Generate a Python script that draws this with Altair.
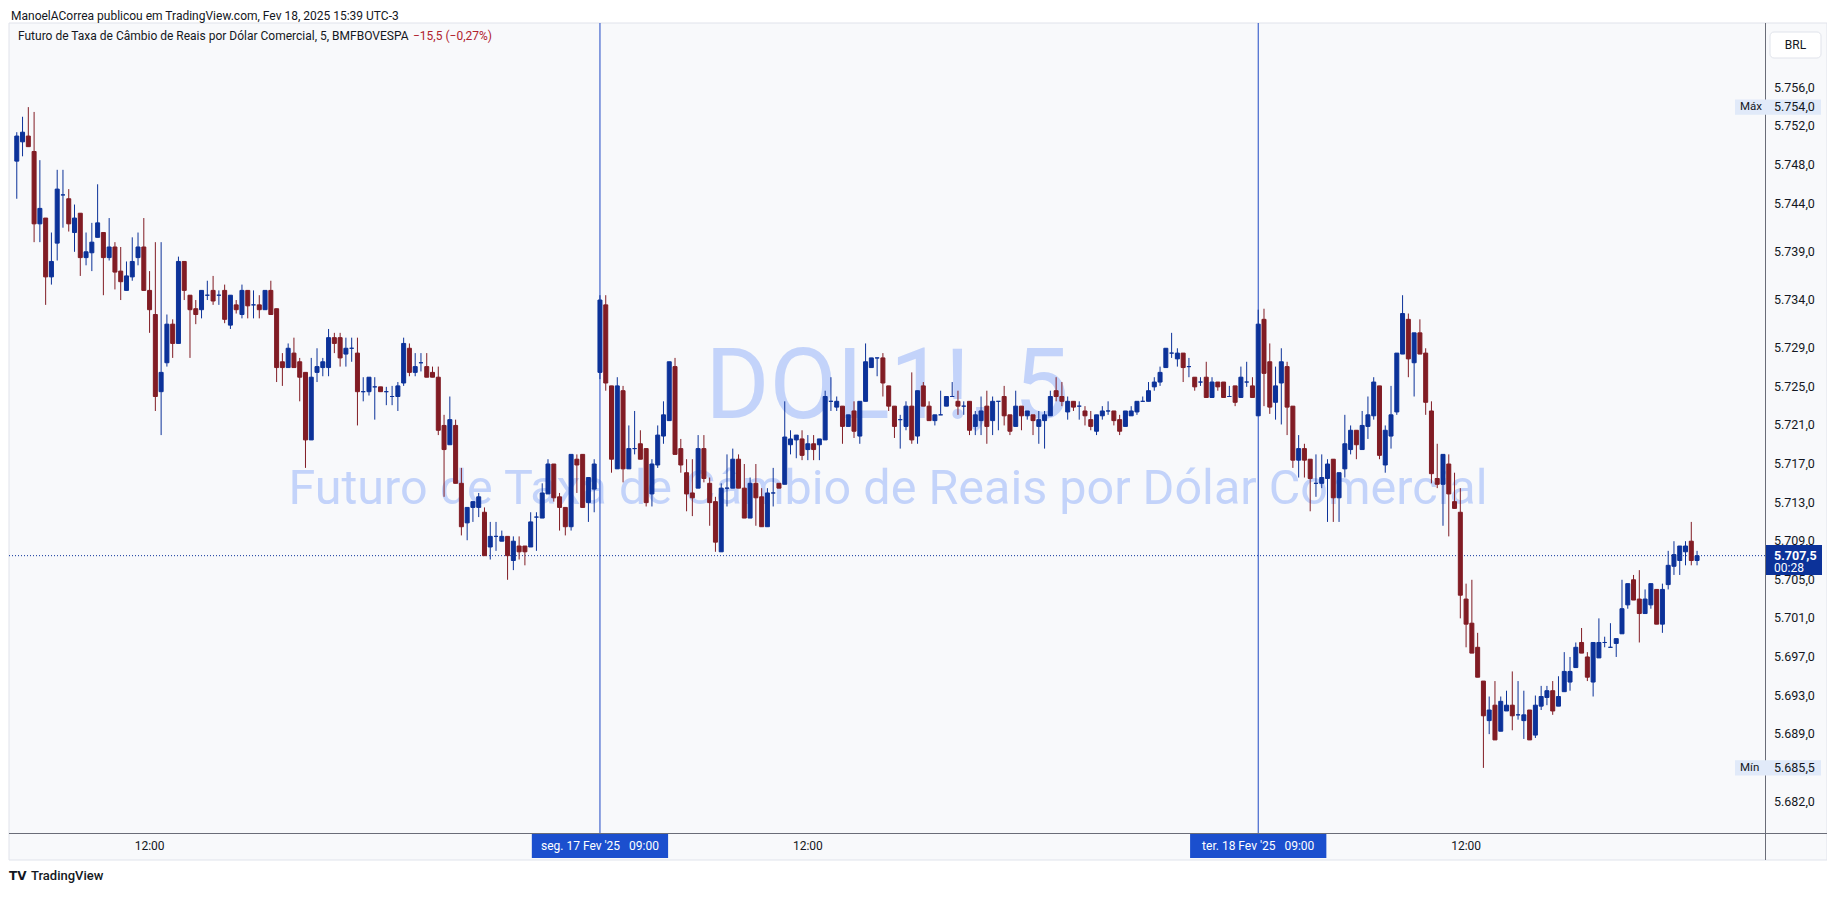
import altair as alt
import pandas as pd

# ---------------- candle data (5-minute bars, points) ----------------
# Day 1 (Fri, from 10:05)
d1_open = [5748.4, 5750.4, 5751.0, 5749.4, 5741.9, 5742.5, 5736.4, 5739.9, 5744.9, 5744.5,
           5741.0, 5743.0, 5738.4, 5738.9, 5740.5, 5741.0, 5738.4, 5739.5, 5737.0, 5735.0,
           5736.4, 5738.4, 5739.5, 5735.0, 5732.5, 5724.5, 5727.5, 5731.5, 5729.5, 5738.0,
           5734.5, 5733.1, 5733.0, 5734.5, 5735.0, 5734.5, 5735.0, 5731.4, 5733.5, 5732.5,
           5735.0, 5733.5, 5733.5, 5733.0, 5735.0, 5733.1, 5727.6, 5727.0, 5728.5, 5727.6,
           5726.5, 5719.5, 5726.5, 5727.0, 5727.0, 5730.1, 5730.1, 5728.4, 5729.0, 5728.5,
           5724.5, 5724.5, 5725.0, 5725.0, 5724.5, 5724.0, 5724.0, 5725.4, 5729.0, 5726.5,
           5727.5, 5727.1, 5726.5, 5726.0, 5721.0, 5719.0, 5721.0, 5715.0, 5710.9, 5712.5,
           5712.5, 5712.0, 5708.4, 5709.5, 5709.0, 5709.5, 5707.0, 5708.5, 5708.5, 5708.4,
           5711.5, 5711.4, 5713.9, 5717.0, 5713.6, 5712.5, 5710.5, 5717.5, 5718.0, 5713.0,
           5714.4]
d1_high = [5751.4, 5753.0, 5754.0, 5753.5, 5748.5, 5742.5, 5741.0, 5747.5, 5747.5, 5745.5,
           5743.9, 5743.0, 5741.0, 5742.0, 5746.0, 5741.0, 5742.5, 5740.0, 5739.5, 5738.0,
           5740.5, 5741.0, 5742.5, 5737.0, 5740.0, 5740.0, 5732.5, 5732.0, 5738.5, 5738.0,
           5734.5, 5734.0, 5735.0, 5736.0, 5736.5, 5735.0, 5735.6, 5734.5, 5734.0, 5735.6,
           5735.0, 5735.0, 5734.5, 5735.0, 5736.0, 5733.1, 5728.5, 5729.5, 5730.1, 5728.0,
           5726.5, 5728.0, 5729.0, 5728.0, 5731.0, 5730.6, 5730.6, 5730.1, 5730.1, 5730.1,
           5726.0, 5726.0, 5726.0, 5725.0, 5725.0, 5725.1, 5725.5, 5730.1, 5729.5, 5728.5,
           5728.5, 5728.5, 5727.1, 5727.1, 5722.1, 5724.0, 5721.6, 5716.6, 5712.5, 5713.1,
           5714.0, 5712.5, 5711.0, 5711.0, 5710.1, 5709.5, 5709.5, 5709.5, 5708.5, 5712.0,
           5712.0, 5715.0, 5717.5, 5717.0, 5714.0, 5712.5, 5718.0, 5718.0, 5718.0, 5715.6,
           5717.5]
d1_low = [5744.5, 5748.9, 5749.9, 5740.0, 5740.0, 5733.5, 5735.6, 5738.1, 5741.5, 5741.1,
          5739.0, 5736.5, 5737.6, 5737.0, 5740.5, 5734.5, 5738.1, 5735.1, 5734.0, 5735.0,
          5736.0, 5737.6, 5735.0, 5730.6, 5722.5, 5720.0, 5727.1, 5728.0, 5729.5, 5734.0,
          5728.0, 5731.5, 5732.1, 5734.0, 5733.5, 5733.5, 5731.6, 5731.0, 5732.6, 5732.1,
          5732.1, 5732.1, 5732.1, 5733.0, 5732.5, 5725.5, 5725.1, 5727.0, 5727.0, 5723.5,
          5716.6, 5719.5, 5725.5, 5726.1, 5726.1, 5728.5, 5727.1, 5727.1, 5727.6, 5721.0,
          5723.5, 5724.1, 5721.6, 5724.5, 5723.1, 5723.1, 5722.5, 5725.1, 5726.1, 5726.1,
          5726.6, 5726.0, 5726.0, 5720.0, 5713.6, 5719.0, 5715.0, 5709.6, 5709.1, 5711.0,
          5711.5, 5707.5, 5707.1, 5708.0, 5709.0, 5705.0, 5706.0, 5707.1, 5706.5, 5708.4,
          5708.0, 5711.4, 5713.9, 5713.1, 5710.1, 5709.6, 5710.1, 5714.0, 5712.5, 5711.0,
          5712.0]
d1_close = [5751.0, 5751.4, 5749.9, 5741.9, 5743.5, 5736.4, 5738.0, 5745.5, 5744.9, 5741.9,
            5742.5, 5738.4, 5739.0, 5740.0, 5742.0, 5738.4, 5739.5, 5736.9, 5735.9, 5736.5,
            5738.0, 5739.5, 5735.0, 5733.0, 5724.0, 5726.5, 5731.5, 5729.5, 5738.0, 5735.0,
            5733.0, 5732.5, 5735.0, 5734.5, 5733.9, 5734.5, 5732.0, 5734.5, 5733.0, 5735.0,
            5733.4, 5733.5, 5733.0, 5735.0, 5732.5, 5727.0, 5727.0, 5729.0, 5727.0, 5726.0,
            5719.5, 5726.0, 5727.1, 5727.6, 5730.1, 5729.5, 5728.0, 5729.0, 5729.0, 5724.5,
            5724.5, 5726.0, 5725.0, 5724.5, 5724.5, 5724.0, 5725.1, 5729.5, 5726.5, 5727.1,
            5727.5, 5726.0, 5726.0, 5720.5, 5718.5, 5721.6, 5715.0, 5710.5, 5712.5, 5713.1,
            5713.6, 5707.5, 5709.5, 5709.5, 5709.5, 5707.5, 5709.0, 5707.9, 5707.9, 5711.0,
            5711.5, 5714.0, 5717.0, 5713.5, 5712.5, 5710.5, 5718.0, 5716.9, 5712.5, 5715.6,
            5717.0]

# Day 2 (seg. 17 Fev, 09:00 - 18:25)
d2_open = [5726.5, 5733.5, 5725.1, 5716.5, 5724.6, 5716.5, 5718.6, 5719.1, 5718.6, 5713.9,
           5716.9, 5719.9, 5721.5, 5727.1, 5718.6, 5716.1, 5714.0, 5714.5, 5718.6, 5715.0,
           5713.1, 5707.9, 5714.5, 5714.5, 5717.5, 5714.5, 5711.4, 5715.0, 5713.6, 5710.5,
           5714.0, 5715.0, 5714.9, 5719.0, 5719.5, 5719.6, 5718.5, 5719.1, 5719.0, 5719.5,
           5723.5, 5722.9, 5723.0, 5720.9, 5722.5, 5719.9, 5723.5, 5727.0, 5728.0, 5728.0,
           5725.1, 5723.0, 5721.6, 5720.9, 5723.0, 5719.9, 5725.1, 5723.0, 5721.5, 5722.1,
           5723.0, 5724.0, 5723.5, 5723.0, 5723.5, 5720.9, 5721.5, 5723.0, 5721.5, 5723.5,
           5724.0, 5722.1, 5720.9, 5723.0, 5722.0, 5722.1, 5720.9, 5721.5, 5722.0, 5724.6,
           5724.0, 5722.4, 5723.5, 5723.0, 5722.5, 5721.6, 5720.4, 5722.0, 5722.5, 5722.5,
           5721.6, 5720.9, 5722.0, 5722.4, 5723.5, 5723.5, 5725.0, 5725.5, 5727.0, 5728.5,
           5727.9, 5728.5, 5727.1, 5726.0, 5725.5, 5726.0, 5723.9, 5725.5, 5725.5, 5724.0,
           5725.1, 5723.9, 5725.5, 5725.1]
d2_high = [5734.5, 5734.5, 5725.1, 5726.0, 5725.1, 5721.0, 5722.5, 5720.5, 5718.6, 5717.5,
           5721.0, 5723.5, 5727.6, 5728.0, 5719.6, 5717.5, 5717.5, 5720.0, 5720.0, 5715.6,
           5713.6, 5715.0, 5718.0, 5718.6, 5718.0, 5717.0, 5715.6, 5717.0, 5714.5, 5714.5,
           5716.6, 5715.0, 5723.5, 5720.5, 5720.0, 5720.5, 5720.0, 5720.0, 5719.6, 5724.6,
           5726.0, 5724.0, 5723.0, 5722.1, 5723.5, 5723.5, 5729.5, 5728.0, 5728.0, 5728.5,
           5725.1, 5723.0, 5722.1, 5723.5, 5726.5, 5724.6, 5725.5, 5723.5, 5722.1, 5724.6,
           5724.0, 5725.5, 5724.6, 5723.5, 5723.5, 5722.5, 5724.0, 5724.6, 5724.0, 5723.5,
           5725.1, 5722.1, 5724.6, 5723.0, 5722.5, 5722.1, 5722.5, 5722.5, 5724.6, 5726.0,
           5725.5, 5724.0, 5723.5, 5723.5, 5723.0, 5722.5, 5722.1, 5723.0, 5723.5, 5722.5,
           5722.1, 5722.5, 5723.0, 5723.5, 5724.0, 5725.5, 5726.0, 5727.1, 5729.0, 5730.6,
           5729.0, 5728.5, 5728.0, 5726.0, 5726.0, 5727.6, 5726.0, 5725.5, 5725.5, 5725.1,
           5725.1, 5727.1, 5727.6, 5726.0]
d2_low = [5725.8, 5724.6, 5716.1, 5716.5, 5715.1, 5716.5, 5718.0, 5717.5, 5712.6, 5712.6,
          5716.6, 5719.1, 5721.5, 5718.0, 5716.1, 5712.1, 5711.6, 5714.5, 5715.1, 5710.6,
          5707.9, 5707.9, 5712.6, 5714.5, 5714.5, 5711.4, 5711.4, 5710.6, 5710.5, 5710.5,
          5712.6, 5714.5, 5714.9, 5718.0, 5717.6, 5717.4, 5717.4, 5717.4, 5717.4, 5719.5,
          5722.5, 5722.5, 5719.1, 5720.9, 5719.7, 5719.1, 5723.5, 5727.0, 5726.1, 5724.0,
          5722.5, 5719.7, 5718.6, 5720.5, 5719.1, 5719.1, 5723.0, 5721.5, 5721.0, 5722.1,
          5723.0, 5724.0, 5722.1, 5722.1, 5720.0, 5720.0, 5720.0, 5719.1, 5720.0, 5720.5,
          5721.0, 5720.0, 5720.9, 5720.5, 5721.6, 5720.0, 5719.1, 5718.6, 5722.0, 5723.5,
          5723.0, 5721.6, 5722.5, 5721.6, 5721.0, 5720.5, 5720.0, 5721.6, 5722.1, 5721.0,
          5720.0, 5720.9, 5722.0, 5722.1, 5723.5, 5723.5, 5724.6, 5725.1, 5727.0, 5728.0,
          5727.1, 5725.5, 5726.0, 5724.6, 5725.1, 5723.9, 5723.9, 5724.6, 5723.9, 5724.0,
          5723.0, 5723.9, 5725.0, 5723.9]
d2_close = [5734.0, 5725.4, 5717.5, 5725.1, 5716.5, 5718.6, 5718.6, 5717.5, 5713.0, 5717.0,
            5720.0, 5722.1, 5727.6, 5718.0, 5716.9, 5713.9, 5713.5, 5718.6, 5715.5, 5713.0,
            5708.9, 5714.5, 5714.5, 5717.5, 5714.5, 5711.4, 5715.0, 5713.5, 5710.5, 5714.0,
            5714.0, 5714.5, 5719.8, 5719.6, 5720.0, 5717.9, 5719.1, 5718.5, 5719.6, 5724.0,
            5723.5, 5723.5, 5720.9, 5722.1, 5720.4, 5723.5, 5727.6, 5728.0, 5728.0, 5725.4,
            5723.0, 5720.9, 5721.6, 5723.0, 5719.5, 5724.6, 5723.0, 5721.5, 5722.1, 5722.1,
            5724.0, 5724.0, 5723.0, 5723.0, 5720.5, 5722.1, 5722.5, 5720.9, 5723.5, 5723.5,
            5722.0, 5720.4, 5723.0, 5722.0, 5722.5, 5721.5, 5721.6, 5722.1, 5724.0, 5724.0,
            5723.5, 5723.5, 5722.9, 5723.0, 5722.0, 5720.9, 5722.1, 5722.5, 5722.5, 5721.5,
            5720.4, 5722.5, 5722.5, 5723.5, 5723.5, 5724.6, 5725.5, 5726.5, 5729.0, 5728.5,
            5728.5, 5727.0, 5727.1, 5725.0, 5725.5, 5723.9, 5725.5, 5725.0, 5723.9, 5724.0,
            5723.4, 5726.0, 5725.5, 5723.9]

# Day 3 (ter. 18 Fev, 09:00 - )
d3_open = [5722.0, 5732.0, 5727.6, 5723.4, 5725.4, 5727.1, 5723.0, 5717.4, 5718.6, 5717.5,
           5715.0, 5715.0, 5715.5, 5717.5, 5713.5, 5716.5, 5718.5, 5720.5, 5718.5, 5720.9,
           5722.0, 5725.1, 5716.9, 5719.9, 5722.4, 5728.4, 5732.0, 5727.5, 5730.6, 5728.5,
           5722.5, 5715.5, 5714.9, 5717.0, 5713.1, 5712.0, 5703.0, 5700.5, 5698.0, 5694.5,
           5690.4, 5692.0, 5689.3, 5691.4, 5692.0, 5691.0, 5690.4, 5691.5, 5688.9, 5691.9,
           5692.8, 5693.5, 5691.9, 5693.4, 5694.4, 5695.9, 5698.5, 5697.0, 5694.4, 5696.9,
           5698.5, 5698.0, 5698.4, 5699.4, 5702.4, 5705.0, 5703.0, 5701.5, 5702.4, 5704.0,
           5700.4, 5704.5, 5706.4, 5707.0, 5707.9, 5709.0, 5707.0]
d3_high = [5733.0, 5733.1, 5729.5, 5727.1, 5729.0, 5727.6, 5723.0, 5720.0, 5719.1, 5717.5,
           5718.0, 5718.0, 5717.5, 5717.5, 5716.1, 5722.1, 5721.0, 5720.5, 5722.5, 5724.0,
           5726.0, 5725.1, 5721.0, 5725.1, 5728.5, 5734.5, 5732.6, 5730.6, 5732.0, 5729.0,
           5723.5, 5719.1, 5718.0, 5718.0, 5716.1, 5714.5, 5704.6, 5705.0, 5699.5, 5694.5,
           5692.9, 5694.5, 5692.9, 5693.5, 5695.5, 5694.5, 5693.5, 5691.5, 5693.0, 5694.0,
           5694.0, 5694.5, 5695.0, 5697.5, 5697.0, 5698.5, 5700.0, 5697.5, 5698.5, 5701.0,
           5699.1, 5700.5, 5698.9, 5705.0, 5704.6, 5705.5, 5706.0, 5704.0, 5704.6, 5704.0,
           5704.6, 5708.0, 5709.0, 5708.5, 5709.0, 5711.0, 5708.0]
d3_low = [5722.0, 5723.0, 5722.2, 5721.6, 5721.1, 5720.0, 5716.6, 5715.6, 5715.6, 5712.1,
          5713.6, 5714.5, 5711.0, 5711.0, 5711.0, 5715.6, 5718.0, 5717.5, 5718.5, 5719.6,
          5721.6, 5717.5, 5716.1, 5718.6, 5722.1, 5728.4, 5726.0, 5724.0, 5728.4, 5722.1,
          5715.0, 5714.5, 5710.6, 5709.5, 5712.4, 5701.0, 5698.0, 5697.4, 5694.9, 5685.5,
          5689.0, 5688.4, 5689.3, 5691.4, 5689.4, 5690.5, 5688.5, 5688.4, 5688.6, 5691.5,
          5692.0, 5691.0, 5691.9, 5693.4, 5693.5, 5695.9, 5697.4, 5694.5, 5692.9, 5696.9,
          5698.0, 5698.0, 5697.0, 5699.4, 5702.0, 5702.9, 5698.5, 5701.5, 5702.0, 5700.4,
          5699.5, 5704.0, 5705.5, 5705.5, 5706.5, 5706.5, 5706.5]
d3_close = [5731.5, 5726.4, 5722.9, 5725.1, 5727.6, 5722.9, 5717.4, 5718.6, 5717.4, 5715.5,
            5715.0, 5715.6, 5717.0, 5713.5, 5716.1, 5719.1, 5720.5, 5719.0, 5721.0, 5722.1,
            5725.5, 5717.9, 5720.5, 5722.1, 5728.5, 5732.6, 5727.9, 5730.6, 5728.4, 5723.4,
            5716.0, 5714.9, 5718.0, 5713.9, 5712.4, 5703.4, 5700.4, 5697.4, 5694.9, 5690.9,
            5691.5, 5688.4, 5692.4, 5692.0, 5690.9, 5691.0, 5691.0, 5688.4, 5692.0, 5692.9,
            5693.5, 5691.4, 5692.9, 5695.5, 5695.5, 5698.0, 5697.4, 5694.9, 5698.5, 5698.5,
            5698.5, 5698.0, 5698.9, 5702.0, 5704.6, 5702.9, 5701.5, 5703.0, 5704.6, 5700.4,
            5704.0, 5706.5, 5707.6, 5708.5, 5708.5, 5707.0, 5707.5]

# axis / annotation values
price_ticks = [5756, 5752, 5748, 5744, 5739, 5734, 5729, 5725, 5721, 5717,
               5713, 5709, 5705, 5701, 5697, 5693, 5689, 5682]
time_tick_idx = [23, 137, 251]
time_tick_labels = ["12:00", "12:00", "12:00"]
session_idx = [101, 215]
session_labels = ["seg. 17 Fev '25\u00a0\u00a0\u00a009:00", "ter. 18 Fev '25\u00a0\u00a0\u00a009:00"]
extreme_prices = [5754.0, 5685.5]
extreme_tags = ["Máx", "Mín"]
last_price = 5707.5
countdown = "00:28"

# ---------------- styling ----------------
UP = "#0c3299"
DOWN = "#811c24"
SESS = "#1f48c4"
DATEC = "#1b4fce"
WM = "#c3d3fa"
BG = "#f8f9fb"
BORDER = "#e0e3eb"
AXC = "#6a6d78"
TXT = "#131722"
FONT = "Roboto"

PW, PH = 1756, 810
xs = alt.Scale(domain=[-0.48, 301.9], nice=False, zero=False)
ys = alt.Scale(domain=[5678.75, 5762.72], nice=False, zero=False)


def X(f):
    return alt.X(f, type="quantitative", scale=xs, axis=None, title=None)


def Y(f):
    return alt.Y(f, type="quantitative", scale=ys, axis=None, title=None)


def br(v):
    s = f"{v:,.1f}"
    return s.replace(",", "#").replace(".", ",").replace("#", ".")


opens = d1_open + d2_open + d3_open
highs = d1_high + d2_high + d3_high
lows = d1_low + d2_low + d3_low
closes = d1_close + d2_close + d3_close
candles = pd.DataFrame({"i": list(range(len(opens))), "open": opens, "high": highs,
                        "low": lows, "close": closes})
candles["dir"] = ["up" if c >= o else "down" for o, c in zip(opens, closes)]
candles["lo"] = candles[["open", "close"]].min(axis=1)
candles["hi"] = candles[["open", "close"]].max(axis=1)

one = pd.DataFrame({"k": [0]})
ticks_df = pd.DataFrame({"v": price_ticks, "lab": [br(v) for v in price_ticks]})
tt_df = pd.DataFrame({"i": time_tick_idx, "lab": time_tick_labels})
half_box = 11.8
sess_df = pd.DataFrame({"i": session_idx, "lab": session_labels,
                        "x1": [v - half_box for v in session_idx],
                        "x2": [v + half_box for v in session_idx]})
ext_df = pd.DataFrame({"p": extreme_prices, "tag": extreme_tags,
                       "lab": [br(v) for v in extreme_prices],
                       "p1": [v + 0.8 for v in extreme_prices],
                       "p2": [v - 0.8 for v in extreme_prices]})
cur_df = pd.DataFrame({"p": [last_price], "lab": [br(last_price)], "cd": [countdown],
                       "p1": [last_price + 1.1], "p2": [last_price - 2.0]})

dir_scale = alt.Scale(domain=["up", "down"], range=[UP, DOWN])
dir_color = alt.Color("dir:N", scale=dir_scale, legend=None)
dir_stroke = alt.Stroke("dir:N", scale=dir_scale, legend=None)

layers = []
# background panel
layers.append(alt.Chart(one).mark_rect(fill=BG, stroke=BORDER, strokeWidth=1).encode(
    x=alt.value(0), x2=alt.value(1818), y=alt.value(0), y2=alt.value(837)))
# watermark
layers.append(alt.Chart(one).mark_text(text="DOL1!, 5", font=FONT, fontSize=98, color=WM,
                                       align="center", baseline="alphabetic").encode(
    x=alt.value(878), y=alt.value(395)))
layers.append(alt.Chart(one).mark_text(text="Futuro de Taxa de Câmbio de Reais por Dólar Comercial",
                                       font=FONT, fontSize=48.5, color=WM, align="center",
                                       baseline="alphabetic").encode(
    x=alt.value(879), y=alt.value(481)))
# session separators
layers.append(alt.Chart(sess_df).mark_rule(color=SESS, strokeWidth=1).encode(
    x=X("i"), y=alt.value(0), y2=alt.value(811)))
# last price dotted line
layers.append(alt.Chart(cur_df).mark_rule(color=UP, strokeWidth=1, strokeDash=[1, 2]).encode(
    y=Y("p"), x=alt.value(0), x2=alt.value(PW)))
# candles
layers.append(alt.Chart(candles).mark_rule(strokeWidth=1).encode(
    x=X("i"), y=Y("low"), y2=alt.Y2("high"), color=dir_color))
layers.append(alt.Chart(candles).mark_bar(size=4, strokeWidth=1).encode(
    x=X("i"), y=Y("lo"), y2=alt.Y2("hi"), color=dir_color, stroke=dir_stroke))
# axis lines
layers.append(alt.Chart(one).mark_rule(color=AXC, strokeWidth=1).encode(
    x=alt.value(PW + 0.5), y=alt.value(0), y2=alt.value(837)))
layers.append(alt.Chart(one).mark_rule(color=AXC, strokeWidth=1).encode(
    y=alt.value(PH + 0.5), x=alt.value(0), x2=alt.value(1818)))
# price labels
layers.append(alt.Chart(ticks_df).mark_text(font=FONT, fontSize=12.5, color=TXT, align="left",
                                            baseline="middle").encode(
    x=alt.value(1765), y=Y("v"), text="lab:N"))
# max / min
layers.append(alt.Chart(ext_df).mark_rect(fill="#e1eaf9").encode(
    x=alt.value(1726), x2=alt.value(1812), y=Y("p1"), y2=alt.Y2("p2")))
layers.append(alt.Chart(ext_df).mark_text(font=FONT, fontSize=11.5, color=TXT, align="left",
                                          baseline="middle").encode(
    x=alt.value(1731), y=Y("p"), text="tag:N"))
layers.append(alt.Chart(ext_df).mark_text(font=FONT, fontSize=12.5, color=TXT, align="left",
                                          baseline="middle").encode(
    x=alt.value(1765), y=Y("p"), text="lab:N"))
# current price box
layers.append(alt.Chart(cur_df).mark_rect(fill=UP).encode(
    x=alt.value(PW + 1), x2=alt.value(1813), y=Y("p1"), y2=alt.Y2("p2")))
layers.append(alt.Chart(cur_df).mark_text(font=FONT, fontSize=12.5, fontWeight="bold", color="white",
                                          align="left", baseline="middle").encode(
    x=alt.value(1765), y=Y("p"), text="lab:N"))
layers.append(alt.Chart(cur_df).mark_text(font=FONT, fontSize=12, color="white", align="left",
                                          baseline="middle", dy=12).encode(
    x=alt.value(1765), y=Y("p"), text="cd:N"))
# time labels
layers.append(alt.Chart(tt_df).mark_text(font=FONT, fontSize=12, color=TXT, align="center",
                                         baseline="middle").encode(
    x=X("i"), y=alt.value(823), text="lab:N"))
layers.append(alt.Chart(sess_df).mark_rect(fill=DATEC).encode(
    x=X("x1"), x2=alt.X2("x2"), y=alt.value(811), y2=alt.value(835)))
layers.append(alt.Chart(sess_df).mark_text(font=FONT, fontSize=12, color="white", align="center",
                                           baseline="middle").encode(
    x=X("i"), y=alt.value(823), text="lab:N"))
# header texts
layers.append(alt.Chart(one).mark_text(
    text="ManoelACorrea publicou em TradingView.com, Fev 18, 2025 15:39 UTC-3",
    font=FONT, fontSize=12, color=TXT, align="left", baseline="middle").encode(
    x=alt.value(2), y=alt.value(-7)))
layers.append(alt.Chart(one).mark_text(
    text="Futuro de Taxa de Câmbio de Reais por Dólar Comercial, 5, BMFBOVESPA",
    font=FONT, fontSize=12, color=TXT, align="left", baseline="middle").encode(
    x=alt.value(9), y=alt.value(13)))
layers.append(alt.Chart(one).mark_text(
    text="\u221215,5 (\u22120,27%)", font=FONT, fontSize=12, color="#b0222d", align="left",
    baseline="middle").encode(x=alt.value(404), y=alt.value(13)))
# currency box
layers.append(alt.Chart(one).mark_rect(fill="white", stroke=BORDER, strokeWidth=1, cornerRadius=4).encode(
    x=alt.value(1761), x2=alt.value(1812), y=alt.value(9), y2=alt.value(35)))
layers.append(alt.Chart(one).mark_text(text="BRL", font=FONT, fontSize=12, color=TXT, align="center",
                                       baseline="middle").encode(x=alt.value(1786.5), y=alt.value(22)))
# footer
layers.append(alt.Chart(one).mark_text(text="TV", font="DejaVu Sans", fontSize=12, fontWeight="bold",
                                       color=TXT, align="left", baseline="middle").encode(
    x=alt.value(0), y=alt.value(853)))
layers.append(alt.Chart(one).mark_text(text="TradingView", font=FONT, fontSize=13, fontWeight=500,
                                       color=TXT, align="left", baseline="middle").encode(
    x=alt.value(22), y=alt.value(853)))

chart = alt.layer(*layers).properties(
    width=PW, height=PH,
    padding={"left": 1, "top": 15, "right": 62, "bottom": 55},
    autosize=alt.AutoSizeParams(type="none"),
    background="white",
).configure_view(strokeWidth=0)

chart.save("out.html", embed_options={"renderer": "svg", "actions": False})
